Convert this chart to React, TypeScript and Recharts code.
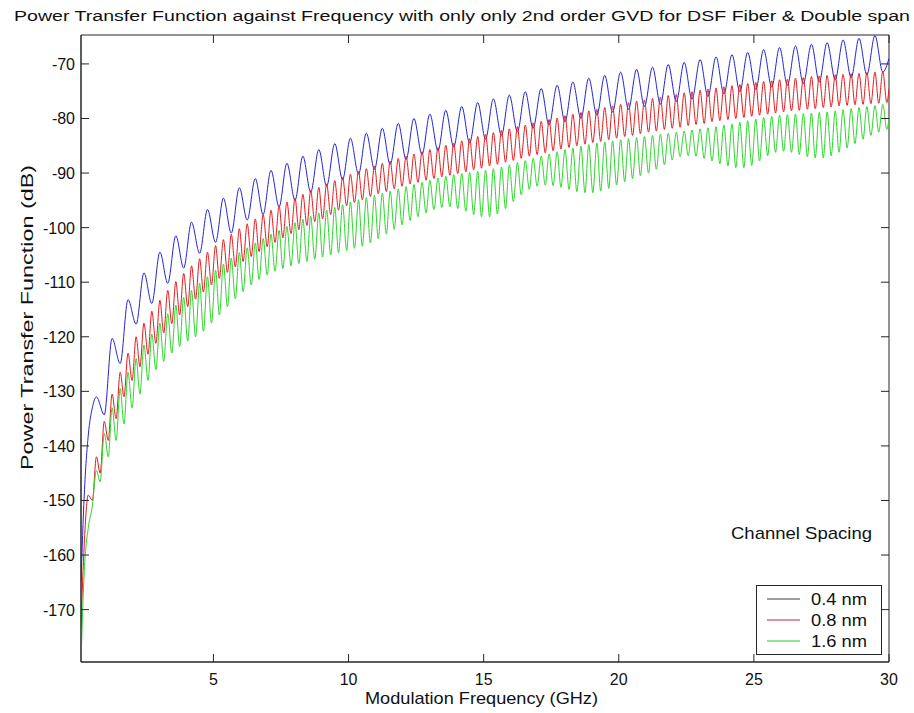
import React from 'react';
import { LineChart, Line, XAxis, YAxis, ReferenceArea, Legend } from 'recharts';

// ---------------- data ----------------
const freqGHz = [
  0.10, 0.22, 0.37, 0.52, 0.67, 0.81, 0.96, 1.11, 1.25, 1.40,
  1.55, 1.69, 1.84, 1.99, 2.14, 2.28, 2.43, 2.58, 2.72, 2.87,
  3.02, 3.16, 3.31, 3.46, 3.61, 3.75, 3.90, 4.05, 4.19, 4.34,
  4.49, 4.63, 4.78, 4.93, 5.08, 5.22, 5.37, 5.52, 5.66, 5.81,
  5.96, 6.10, 6.25, 6.40, 6.55, 6.69, 6.84, 6.99, 7.13, 7.28,
  7.43, 7.57, 7.72, 7.87, 8.02, 8.16, 8.31, 8.46, 8.60, 8.75,
  8.90, 9.04, 9.19, 9.34, 9.49, 9.63, 9.78, 9.93, 10.07, 10.22,
  10.37, 10.51, 10.66, 10.81, 10.96, 11.10, 11.25, 11.40, 11.54, 11.69,
  11.84, 11.98, 12.13, 12.28, 12.42, 12.57, 12.72, 12.87, 13.01, 13.16,
  13.31, 13.45, 13.60, 13.75, 13.89, 14.04, 14.19, 14.34, 14.48, 14.63,
  14.78, 14.92, 15.07, 15.22, 15.36, 15.51, 15.66, 15.81, 15.95, 16.10,
  16.25, 16.39, 16.54, 16.69, 16.83, 16.98, 17.13, 17.28, 17.42, 17.57,
  17.72, 17.86, 18.01, 18.16, 18.30, 18.45, 18.60, 18.75, 18.89, 19.04,
  19.19, 19.33, 19.48, 19.63, 19.77, 19.92, 20.07, 20.22, 20.36, 20.51,
  20.66, 20.80, 20.95, 21.10, 21.25, 21.39, 21.54, 21.69, 21.83, 21.98,
  22.13, 22.27, 22.42, 22.57, 22.71, 22.86, 23.01, 23.16, 23.30, 23.45,
  23.60, 23.74, 23.89, 24.04, 24.19, 24.33, 24.48, 24.63, 24.77, 24.92,
  25.07, 25.21, 25.36, 25.51, 25.66, 25.80, 25.95, 26.10, 26.24, 26.39,
  26.54, 26.68, 26.83, 26.98, 27.13, 27.27, 27.42, 27.57, 27.71, 27.86,
  28.01, 28.15, 28.30, 28.45, 28.60, 28.74, 28.89, 29.04, 29.18, 29.33,
  29.48, 29.62, 29.77, 29.92, 30.00,
];

// 0.4 nm channel spacing (peaks / troughs only)
const blue04nm = [
  -165, -149, -138, -133, -131, null, -134.3, null, -120.3, null,
  -124.9, null, -113.2, null, -117.7, null, -108.3, null, -113.9, null,
  -104.5, null, -110.2, null, -101.5, null, -107.4, null, -99.0, null,
  -104.7, null, -96.7, null, -102.7, null, -94.6, null, -101.0, null,
  -92.7, null, -98.6, null, -91.0, null, -97.6, null, -89.5, null,
  -96.2, null, -88.2, null, -95.0, null, -86.9, null, -93.5, null,
  -85.7, null, -92.4, null, -84.6, null, -91.2, null, -83.6, null,
  -90.2, null, -82.7, null, -89.3, null, -81.8, null, -88.4, null,
  -80.9, null, -87.5, null, -80.0, null, -86.6, null, -79.2, null,
  -85.9, null, -78.5, null, -85.2, null, -77.8, null, -84.5, null,
  -77.1, null, -83.8, null, -76.4, null, -83.1, null, -75.7, null,
  -82.4, null, -75.1, null, -81.8, null, -74.5, null, -81.2, null,
  -73.9, null, -80.6, null, -73.3, null, -80.0, null, -72.6, null,
  -79.4, null, -72.1, null, -78.8, null, -71.5, null, -78.3, null,
  -71.0, null, -77.8, null, -70.6, null, -77.4, null, -70.1, null,
  -76.9, null, -69.7, null, -76.5, null, -69.2, null, -76.0, null,
  -68.7, null, -75.5, null, -68.3, null, -75.1, null, -67.9, null,
  -74.7, null, -67.4, null, -74.2, null, -67.0, null, -73.9, null,
  -66.7, null, -73.6, null, -66.4, null, -73.3, null, -66.1, null,
  -72.9, null, -65.6, null, -72.5, null, -65.3, null, -72.0, null,
  -64.8, null, -71.5, null, -69.0,
];

// 0.8 nm channel spacing
const red08nm = [
  -173, -158, -149, -150, -142, -145, -135.5, -139, -130.5, -135,
  -126.5, -131, -123, -128, -120, -125.5, -117.5, -123.2, -115.3, -121.2,
  -113.3, -119.3, -111.5, -117.6, -109.9, -116, -108.4, -114.5, -107, -113.1,
  -105.7, -111.8, -104.5, -110.5, -103.3, -109.3, -102.2, -108.2, -101.2, -107.2,
  -100.2, -106.2, -99.3, -105.3, -98.4, -104.4, -97.6, -103.5, -96.8, -102.7,
  -96.0, -101.9, -95.3, -101.1, -94.6, -100.4, -93.9, -99.6, -93.2, -98.9,
  -92.6, -98.4, -92.0, -97.6, -91.4, -96.8, -90.8, -96.0, -90.2, -95.4,
  -89.7, -94.9, -89.2, -94.3, -88.7, -93.8, -88.2, -93.4, -87.8, -92.9,
  -87.3, -92.4, -86.9, -92.0, -86.5, -91.7, -86.1, -91.3, -85.7, -91.0,
  -85.3, -90.7, -84.9, -90.4, -84.5, -90.1, -84.1, -89.8, -83.7, -89.4,
  -83.3, -89.1, -82.9, -88.7, -82.6, -88.4, -82.2, -88.0, -81.9, -87.7,
  -81.5, -87.3, -81.2, -86.9, -80.8, -86.6, -80.5, -86.3, -80.2, -85.9,
  -79.9, -85.6, -79.5, -85.3, -79.2, -85.0, -78.9, -84.7, -78.6, -84.4,
  -78.3, -84.2, -78.0, -83.9, -77.7, -83.6, -77.4, -83.3, -77.1, -83.1,
  -76.8, -82.8, -76.6, -82.5, -76.3, -82.3, -76.1, -82.0, -75.8, -81.8,
  -75.6, -81.6, -75.3, -81.3, -75.1, -81.1, -74.8, -80.9, -74.6, -80.6,
  -74.4, -80.4, -74.2, -80.2, -74.0, -80.0, -73.8, -79.8, -73.6, -79.6,
  -73.4, -79.4, -73.2, -79.2, -73.1, -79.0, -72.9, -78.8, -72.8, -78.6,
  -72.6, -78.5, -72.5, -78.3, -72.3, -78.2, -72.2, -78.0, -72.1, -77.9,
  -72.0, -77.7, -71.9, -77.6, -71.8, -77.5, -71.7, -77.4, -71.6, -77.3,
  -71.5, -77.2, -71.4, -77.1, -74.5,
];

// 1.6 nm channel spacing
const green16nm = [
  -179.6, -163, -155, -151, -144.5, -146.6, -137.7, -142, -133, -139,
  -129.5, -136, -126.5, -133, -124, -130.5, -121.5, -128, -119.5, -126,
  -117.5, -124.5, -115.8, -123, -114.2, -121.8, -112.8, -120.8, -111.5, -120,
  -110.2, -119, -109, -117.5, -107.8, -116, -106.7, -114.5, -105.6, -113,
  -104.6, -111.7, -103.7, -110.5, -102.8, -109.5, -102, -108.7, -101.2, -108,
  -100.5, -107.5, -99.8, -107, -99.1, -106.6, -98.5, -106.2, -97.9, -105.8,
  -97.3, -105.4, -96.8, -105, -96.3, -104.6, -95.8, -104.2, -95.3, -103.8,
  -94.9, -103.4, -94.5, -102.8, -94.1, -102, -93.7, -101.2, -93.3, -100.3,
  -92.9, -99.5, -92.5, -98.7, -92.1, -98, -91.7, -97.3, -91.3, -96.7,
  -90.9, -96.3, -90.6, -96.2, -90.3, -96.5, -90.1, -97, -89.9, -97.6,
  -89.7, -98, -89.5, -98, -89.2, -97.5, -88.9, -96.5, -88.5, -95.2,
  -88.1, -94, -87.7, -93, -87.3, -92.4, -86.9, -92.2, -86.5, -92.3,
  -86.1, -92.6, -85.7, -93, -85.4, -93.4, -85.1, -93.6, -84.8, -93.6,
  -84.5, -93.3, -84.3, -92.8, -84.1, -92.2, -83.9, -91.6, -83.7, -91,
  -83.5, -90.5, -83.3, -90, -83.1, -89.3, -82.9, -88.5, -82.7, -87.6,
  -82.5, -87, -82.3, -86.8, -82.1, -86.9, -81.9, -87.3, -81.7, -87.8,
  -81.5, -88.3, -81.2, -88.7, -81, -89, -80.7, -89, -80.4, -88.6,
  -80.1, -87.8, -79.8, -86.8, -79.6, -86.2, -79.4, -86, -79.3, -86.2,
  -79.2, -86.6, -79.1, -87, -79, -87.2, -78.9, -87.2, -78.8, -86.8,
  -78.6, -86.2, -78.4, -85.4, -78.2, -84.6, -78, -83.8, -77.8, -83.1,
  -77.6, -82.5, -77.4, -82, -80,
];

const seriesNames = ['0.4 nm', '0.8 nm', '1.6 nm'];
const xTicks = [5, 10, 15, 20, 25, 30];
const yTicks = [-170, -160, -150, -140, -130, -120, -110, -100, -90, -80, -70];
const xDomain = [0.1, 30];
const yDomain = [-179.6, -64.7];

const titleText = 'Power Transfer Function against Frequency with only only 2nd order GVD for DSF Fiber & Double span';
const xLabelText = 'Modulation Frequency (GHz)';
const yLabelText = 'Power Transfer Function (dB)';
const legendTitleText = 'Channel Spacing';

// ---------------- styling / layout ----------------
const W = 914;
const H = 713;
const PLOT = { left: 81, right: 889, top: 35, bottom: 662 };
const TICK_LEN = 8;
const AXIS_COLOR = '#262626';
const FONT = '"Liberation Sans", Arial, Helvetica, sans-serif';
const COLORS = ['#2323d6', '#e31a1c', '#2bd62b'];
const LEGEND_LINE_COLORS = ['#3a3a48', '#c8203a', '#2cc82c'];

const data = freqGHz.map((f, i) => ({
  f,
  b: blue04nm[i],
  r: red08nm[i],
  g: green16nm[i],
}));

function XTick(props: any) {
  const { x, payload } = props;
  return (
    <g>
      <line x1={x} x2={x} y1={PLOT.bottom} y2={PLOT.bottom - TICK_LEN} stroke={AXIS_COLOR} />
      <line x1={x} x2={x} y1={PLOT.top} y2={PLOT.top + TICK_LEN} stroke={AXIS_COLOR} />
      <text x={x} y={PLOT.bottom + 23} textAnchor="middle" fontSize={16} fontFamily={FONT} fill="#111">
        {payload.value}
      </text>
    </g>
  );
}

function YTick(props: any) {
  const { y, payload } = props;
  return (
    <g>
      <line x1={PLOT.left} x2={PLOT.left + TICK_LEN} y1={y} y2={y} stroke={AXIS_COLOR} />
      <line x1={PLOT.right} x2={PLOT.right - TICK_LEN} y1={y} y2={y} stroke={AXIS_COLOR} />
      <text x={PLOT.left - 6} y={y + 6} textAnchor="end" fontSize={16} fontFamily={FONT} fill="#111">
        {payload.value}
      </text>
    </g>
  );
}

function LegendBox(props: any) {
  const items = props.payload || [];
  return (
    <svg width={127} height={71} style={{ display: 'block' }}>
      <rect x={0.5} y={0.5} width={125} height={69} fill="#fff" stroke={AXIS_COLOR} />
      {items.map((it: any, i: number) => (
        <g key={i}>
          <line x1={11} x2={44} y1={14 + i * 21} y2={14 + i * 21} stroke={LEGEND_LINE_COLORS[i]} strokeWidth={1.2} />
          <text x={55} y={20 + i * 21} fontSize={17} fontFamily={FONT} fill="#111" textLength={56} lengthAdjust="spacingAndGlyphs">
            {it.value}
          </text>
        </g>
      ))}
    </svg>
  );
}

export default function App() {
  return (
    <div style={{ position: 'absolute', left: 0, top: 0, width: W, height: H, background: '#fff' }}>
      <LineChart
        width={W}
        height={H}
        data={data}
        margin={{ top: PLOT.top, right: W - PLOT.right, bottom: 21, left: 21 }}
      >
        <XAxis
          dataKey="f"
          type="number"
          domain={xDomain}
          allowDataOverflow
          ticks={xTicks}
          interval={0}
          height={30}
          axisLine={{ stroke: AXIS_COLOR }}
          tickLine={false}
          tick={<XTick />}
        />
        <YAxis
          type="number"
          domain={yDomain}
          allowDataOverflow
          ticks={yTicks}
          interval={0}
          width={60}
          axisLine={{ stroke: AXIS_COLOR }}
          tickLine={false}
          tick={<YTick />}
        />
        <Line dataKey="b" name={seriesNames[0]} type="monotone" stroke={COLORS[0]} strokeWidth={1} dot={false} activeDot={false} connectNulls isAnimationActive={false} />
        <Line dataKey="r" name={seriesNames[1]} type="monotone" stroke={COLORS[1]} strokeWidth={1} dot={false} activeDot={false} connectNulls isAnimationActive={false} />
        <Line dataKey="g" name={seriesNames[2]} type="monotone" stroke={COLORS[2]} strokeWidth={1} dot={false} activeDot={false} connectNulls isAnimationActive={false} />
        <ReferenceArea x1={xDomain[0]} x2={xDomain[1]} y1={yDomain[0]} y2={yDomain[1]} fill="none" fillOpacity={0} stroke={AXIS_COLOR} strokeWidth={1} ifOverflow="visible" />
        <Legend
          layout="horizontal"
          verticalAlign="middle"
          align="center"
          content={<LegendBox />}
          wrapperStyle={{ left: 756, top: 585, width: 127, height: 71 }}
        />
      </LineChart>
      <svg width={W} height={H} style={{ position: 'absolute', left: 0, top: 0, pointerEvents: 'none' }}>
        <text x={14} y={20.5} fontSize={15.5} fontFamily={FONT} fill="#111" textLength={896} lengthAdjust="spacingAndGlyphs">
          {titleText}
        </text>
        <text x={365} y={704} fontSize={17} fontFamily={FONT} fill="#111" textLength={233} lengthAdjust="spacingAndGlyphs">
          {xLabelText}
        </text>
        <text transform="translate(33,470) rotate(-90)" x={0} y={0} fontSize={17} fontFamily={FONT} fill="#111" textLength={305} lengthAdjust="spacingAndGlyphs">
          {yLabelText}
        </text>
        <text x={731} y={539} fontSize={17} fontFamily={FONT} fill="#111" textLength={141} lengthAdjust="spacingAndGlyphs">
          {legendTitleText}
        </text>
      </svg>
    </div>
  );
}
